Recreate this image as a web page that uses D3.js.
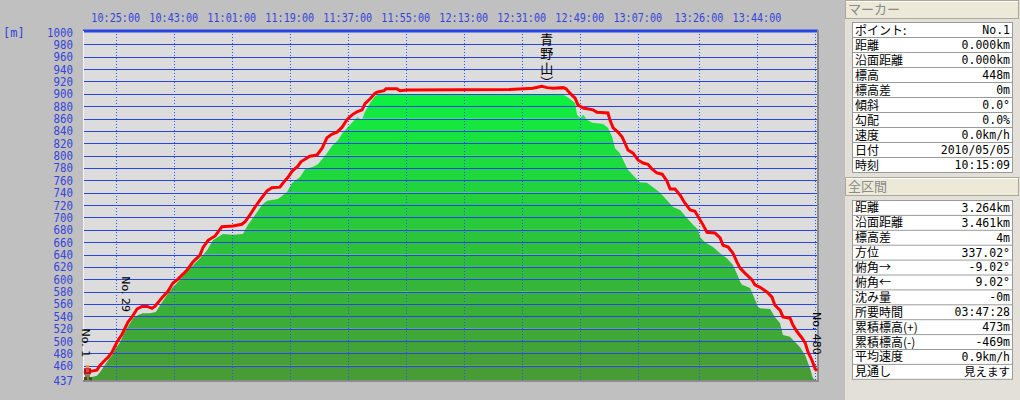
<!DOCTYPE html>
<html>
<head>
<meta charset="utf-8">
<script src="https://cdn.jsdelivr.net/npm/d3@7"></script>
<style>
  html, body { margin: 0; padding: 0; background: #c0c0c0; }
  svg { display: block; }
  .mono { font-family: 'DejaVu Sans Mono', 'Noto Sans CJK JP', monospace; }
  .jp { font-family: 'Noto Sans CJK JP', sans-serif; }
</style>
</head>
<body>
<div id="chart"></div>
<script>
/* global d3 */

// ---- data ----
const DAY = '2010/05/05';
const START_TIME = '10:15:09';
const DURATION = '03:47:28';

// top axis tick labels (one more unlabelled grid line at 14:02)
const tickTimes = ['10:25:00', '10:43:00', '11:01:00', '11:19:00', '11:37:00', '11:55:00',
  '12:13:00', '12:31:00', '12:49:00', '13:07:00', '13:26:00', '13:44:00'];
const extraGridTimes = ['14:02:00'];

// left axis
const elevTicks = [437, 460, 480, 500, 520, 540, 560, 580, 600, 620, 640, 660, 680, 700,
  720, 740, 760, 780, 800, 820, 840, 860, 880, 900, 920, 940, 960, 980, 1000];

// GPS track (red) : minutes after start, elevation [m]
const trackMin = [0, 1.9, 4.0, 5.0, 6.5, 7.5, 8.7, 10.2, 11.8, 13.7, 14.9, 16.5, 18.0, 19.6,
  21.1, 22.0, 24.2, 26.1, 27.6, 28.9, 30.1, 32.0, 33.8, 36.0, 36.9, 38.5, 40.7, 42.8, 46.2,
  49.0, 50.0, 51.5, 53.1, 54.6, 56.8, 58.3, 60.8, 61.8, 63.3, 64.6, 66.4, 67.3, 69.2, 70.1,
  72.3, 73.9, 75.4, 77.0, 78.5, 80.1, 81.6, 83.2, 84.7, 86.3, 87.2, 88.8, 90.3, 91.2, 93.1,
  93.7, 97.1, 98.1, 100.2, 132.2, 139.3, 142.1, 143.7, 145.6, 148.7, 149.6, 150.8, 152.4,
  153.3, 154.9, 158.0, 159.2, 162.6, 163.2, 164.2, 165.7, 167.0, 167.9, 168.8, 170.4, 171.9,
  173.5, 175.0, 176.3, 177.8, 179.4, 180.9, 181.9, 183.4, 185.0, 186.5, 188.1, 189.6, 191.2,
  192.1, 193.3, 195.8, 197.4, 198.3, 199.9, 201.4, 202.6, 203.6, 205.1, 207.3, 208.2, 209.8,
  212.0, 213.5, 214.4, 216.0, 216.9, 219.1, 220.0, 221.3, 222.8, 223.8, 224.7, 225.9, 226.9,
  227.47];
const trackElev = [448, 451, 453, 461, 469, 474, 482, 498, 511, 531, 539, 552, 556, 556,
  553, 556, 570, 581, 594, 599, 605, 615, 628, 639, 651, 663, 670, 685, 686,
  689, 693, 704, 717, 728, 743, 748, 749, 756, 765, 775, 783, 790, 796, 799,
  801, 812, 829, 835, 838, 846, 858, 866, 871, 874, 884, 892, 901, 903, 905,
  908, 908, 905, 906, 907, 909, 912, 910, 909, 910, 908, 901, 893,
  882, 877, 874, 870, 869, 858, 845, 838, 830, 820, 809, 804, 793,
  788, 786, 778, 772, 770, 759, 746, 746, 736, 723, 712, 710, 696,
  688, 676, 675, 667, 655, 652, 642, 628, 618, 610, 599, 591, 587,
  579, 571, 558, 550, 539, 537, 526, 515, 505, 497, 482, 469, 455,
  452];

// terrain profile (green) : minutes after start, elevation [m]
const demMin = [0, 2.5, 4.0, 5.0, 7.1, 8.7, 9.6, 11.2, 12.7, 14.3, 15.2, 16.8, 18.3, 20.5,
  22.3, 23.6, 25.8, 27.6, 29.8, 32.9, 36.0, 38.2, 40.0, 43.1, 46.2, 49.3, 50.9, 53.1, 55.2,
  56.8, 60.2, 63.0, 64.6, 67.0, 68.6, 71.1, 72.6, 75.4, 77.0, 78.8, 80.4, 82.6, 84.7, 86.3,
  87.2, 88.8, 90.3, 91.9, 95.6, 97.1, 148.7, 150.2, 152.4, 153.0, 154.0, 154.9, 156.1,
  157.7, 161.1, 162.6, 163.9, 164.8, 166.3, 167.3, 168.8, 171.0, 172.5, 174.7, 176.6,
  178.8, 180.9, 182.8, 185.0, 187.1, 189.0, 190.6, 191.2, 192.7, 195.2, 197.4, 199.5,
  201.4, 203.0, 203.6, 204.2, 206.7, 207.6, 209.2, 209.8, 212.9, 214.4, 216.0, 216.9,
  219.1, 220.7, 222.2, 223.8, 225.3, 226.2, 226.9];
const demElev = [442, 442, 444, 450, 466, 477, 486, 498, 515, 529, 537, 542, 545, 545,
  547, 558, 575, 587, 599, 618, 634, 647, 663, 673, 672, 673, 688, 704, 720,
  727, 730, 741, 756, 765, 778, 782, 786, 804, 816, 825, 838, 850, 862, 858,
  871, 885, 896, 900, 900, 899, 899, 894, 885, 866, 861, 866, 858,
  853, 851, 845, 830, 812, 804, 793, 777, 765, 757, 756, 749,
  740, 728, 717, 712, 699, 688, 680, 668, 660, 652, 642, 634,
  623, 604, 596, 591, 586, 575, 555, 553, 552, 539, 529, 510,
  507, 498, 490, 477, 456, 440, 437];

// waypoint labels along the track
const pointNames = ['No. 1', 'No. 29', 'No. 480'];
const pointMin = [0.3, 12.7, 227.2];
const pointElev = [448, 521, 452];

const summitName = '青野山）';
const summitMin = 143.6;
const summitElev = 912;

// side panel
const markerTitle = 'マーカー';
const markerLabels = ['ポイント:', '距離', '沿面距離', '標高', '標高差', '傾斜', '勾配', '速度', '日付', '時刻'];
const markerValues = ['No.1', '0.000km', '0.000km', '448m', '0m', '0.0°', '0.0%', '0.0km/h', '2010/05/05', '10:15:09'];
const totalTitle = '全区間';
const totalLabels = ['距離', '沿面距離', '標高差', '方位', '俯角→', '俯角←', '沈み量', '所要時間',
  '累積標高(+)', '累積標高(-)', '平均速度', '見通し'];
const totalValues = ['3.264km', '3.461km', '4m', '337.02°', '-9.02°', '9.02°', '-0m', '03:47:28',
  '473m', '-469m', '0.9km/h', '見えます'];

// ---- chart ----
const W = 1020;
const H = 400;
const plot = { left: 84, right: 817, top: 31, bottom: 380 };
const BLUE = '#2a44e6';
const TEXT_BLUE = '#3444dc';

const parseTime = d3.timeParse('%Y/%m/%d %H:%M:%S');
const start = parseTime(`${DAY} ${START_TIME}`);
const [dh, dm, ds] = DURATION.split(':').map(Number);
const end = new Date(start.getTime() + (dh * 3600 + dm * 60 + ds) * 1000);
const atMin = m => new Date(start.getTime() + m * 60000);
const atClock = s => parseTime(`${DAY} ${s}`);

const x = d3.scaleTime().domain([start, end]).range([plot.left, plot.right]);
const y = d3.scaleLinear().domain([437, 1000]).range([plot.bottom, 32]);

const track = trackMin.map((m, i) => ({ t: atMin(m), e: trackElev[i] }));
const dem = demMin.map((m, i) => ({ t: atMin(m), e: demElev[i] }));

const $svg = d3.select('#chart').append('svg').attr('width', W).attr('height', H);
const $defs = $svg.append('defs');

// plot background
$svg.append('rect')
  .attr('x', plot.left).attr('y', plot.top)
  .attr('width', plot.right - plot.left).attr('height', plot.bottom - plot.top)
  .attr('fill', '#dcdcdc');

// terrain: banded green, one colour per 20 m band
const area = d3.area()
  .x(d => x(d.t))
  .y0(y(437))
  .y1(d => y(d.e));

$defs.append('clipPath').attr('id', 'dem-clip')
  .append('path').attr('d', area(dem));

const bands = d3.pairs(elevTicks);
const bandColor = d3.scaleLinear()
  .domain([437, 880]).range(['#479c36', '#10ee40'])
  .interpolate(d3.interpolateRgb).clamp(true);

$svg.append('g').attr('clip-path', 'url(#dem-clip)')
  .selectAll('rect')
  .data(bands)
  .join('rect')
  .attr('x', plot.left)
  .attr('width', plot.right - plot.left)
  .attr('y', d => y(d[1]))
  .attr('height', d => y(d[0]) - y(d[1]))
  .attr('fill', d => bandColor(d[0]));

// grid
const $grid = $svg.append('g');
$grid.selectAll('line.h')
  .data(elevTicks.filter(v => v > 437 && v < 1000))
  .join('line')
  .attr('class', 'h')
  .attr('x1', plot.left).attr('x2', plot.right)
  .attr('y1', d => Math.round(y(d)) + 0.5).attr('y2', d => Math.round(y(d)) + 0.5)
  .attr('stroke', BLUE).attr('stroke-width', 1);

$grid.selectAll('line.v')
  .data(tickTimes.concat(extraGridTimes).map(atClock))
  .join('line')
  .attr('class', 'v')
  .attr('x1', d => Math.round(x(d)) + 0.5).attr('x2', d => Math.round(x(d)) + 0.5)
  .attr('y1', plot.top).attr('y2', plot.bottom)
  .attr('stroke', '#3050ff').attr('stroke-width', 1)
  .attr('stroke-dasharray', '1,2');

// borders
$svg.append('line')
  .attr('x1', plot.left - 1).attr('x2', plot.right + 1)
  .attr('y1', plot.top).attr('y2', plot.top)
  .attr('stroke', BLUE).attr('stroke-width', 3);
$svg.append('line')
  .attr('x1', plot.left - 0.5).attr('x2', plot.left - 0.5)
  .attr('y1', plot.top).attr('y2', plot.bottom)
  .attr('stroke', '#f4f4ff').attr('stroke-width', 1);
$svg.append('line')
  .attr('x1', plot.right + 1).attr('x2', plot.right + 1)
  .attr('y1', plot.top - 1).attr('y2', plot.bottom + 2)
  .attr('stroke', '#8c8c8c').attr('stroke-width', 2);
$svg.append('line')
  .attr('x1', plot.left - 1).attr('x2', plot.right + 2)
  .attr('y1', plot.bottom + 1).attr('y2', plot.bottom + 1)
  .attr('stroke', '#8c8c8c').attr('stroke-width', 2);

// track line
$svg.append('path')
  .datum(track)
  .attr('d', d3.line().x(d => x(d.t)).y(d => y(d.e)))
  .attr('fill', 'none')
  .attr('stroke', '#ff0000')
  .attr('stroke-width', 3)
  .attr('stroke-linejoin', 'miter');

// axes labels
$svg.append('g').attr('class', 'mono')
  .selectAll('text')
  .data(tickTimes)
  .join('text')
  .attr('x', d => x(atClock(d)))
  .attr('y', 22)
  .attr('text-anchor', 'middle')
  .attr('font-size', 12.5)
  .attr('textLength', d => d.length * 6.1)
  .attr('lengthAdjust', 'spacingAndGlyphs')
  .attr('fill', TEXT_BLUE)
  .text(d => d);

$svg.append('g').attr('class', 'mono')
  .selectAll('text')
  .data(elevTicks)
  .join('text')
  .attr('x', 73)
  .attr('y', d => y(d) + 4.5)
  .attr('text-anchor', 'end')
  .attr('font-size', 12.5)
  .attr('textLength', d => String(d).length * 6.5)
  .attr('lengthAdjust', 'spacingAndGlyphs')
  .attr('fill', TEXT_BLUE)
  .text(d => d);

$svg.append('text').attr('class', 'mono')
  .attr('x', 3).attr('y', 37)
  .attr('font-size', 12)
  .attr('fill', TEXT_BLUE)
  .text('[m]');

// waypoint labels (rotated)
$svg.append('g')
  .selectAll('text')
  .data(pointNames)
  .join('text')
  .attr('transform', (d, i) => `translate(${x(atMin(pointMin[i])) - 3},${y(pointElev[i]) - 16}) rotate(90)`)
  .attr('text-anchor', 'end')
  .attr('font-family', 'DejaVu Sans, sans-serif')
  .attr('font-size', 11)
  .attr('fill', '#000')
  .text(d => d);

// summit name, vertical writing
$svg.append('text').attr('class', 'jp')
  .attr('x', x(atMin(summitMin)))
  .attr('y', y(summitElev) - 54)
  .style('writing-mode', 'vertical-rl')
  .attr('font-size', 13)
  .attr('letter-spacing', 1.5)
  .attr('fill', '#000')
  .text(summitName);

// hiker icon at the start point
const hx = x(start);
const hy = y(448);
const $hiker = $svg.append('g').attr('transform', `translate(${hx},${hy})`);
$hiker.append('rect').attr('x', 2).attr('y', -8).attr('width', 3).attr('height', 3).attr('fill', '#ff9020');
$hiker.append('rect').attr('x', 0).attr('y', -5).attr('width', 7).attr('height', 6).attr('fill', '#b01818');
$hiker.append('rect').attr('x', 2).attr('y', -4).attr('width', 3).attr('height', 3).attr('fill', '#ff4040');
$hiker.append('rect').attr('x', 1).attr('y', 1).attr('width', 5).attr('height', 3).attr('fill', '#8a7a50');
$hiker.append('rect').attr('x', 0).attr('y', 4).attr('width', 3).attr('height', 3).attr('fill', '#504030');
$hiker.append('rect').attr('x', 5).attr('y', 4).attr('width', 3).attr('height', 3).attr('fill', '#504030');

// ---- side panel ----
const panel = { x: 845, tableX: 852.5, tableW: 160 };
$svg.append('rect')
  .attr('x', panel.x).attr('y', 0).attr('width', W - panel.x).attr('height', H)
  .attr('fill', '#e2e0d9');

function header(title, top) {
  const $g = $svg.append('g');
  $g.append('rect')
    .attr('x', panel.x + 0.5).attr('y', top + 0.5)
    .attr('width', W - panel.x - 2).attr('height', 18)
    .attr('fill', '#ece9d8').attr('stroke', '#aca899');
  $g.append('line')
    .attr('x1', panel.x + 1).attr('x2', W - 2)
    .attr('y1', top + 1.5).attr('y2', top + 1.5)
    .attr('stroke', '#fff');
  $g.append('text').attr('class', 'jp')
    .attr('x', panel.x + 3).attr('y', top + 14)
    .attr('font-size', 13)
    .attr('fill', '#8a8a8a')
    .text(title);
}

function table(labels, values, top, rowH) {
  const $g = $svg.append('g');
  $g.append('rect')
    .attr('x', panel.tableX).attr('y', top)
    .attr('width', panel.tableW).attr('height', rowH * labels.length)
    .attr('fill', '#fff').attr('stroke', '#9a9a9a');
  const $row = $g.selectAll('g')
    .data(labels)
    .join('g')
    .attr('transform', (d, i) => `translate(0,${top + i * rowH})`);
  $row.filter((d, i) => i > 0)
    .append('line')
    .attr('x1', panel.tableX).attr('x2', panel.tableX + panel.tableW)
    .attr('y1', 0).attr('y2', 0)
    .attr('stroke', '#9a9a9a');
  $row.append('text').attr('class', 'jp')
    .attr('x', panel.tableX + 2.5).attr('y', rowH - 3)
    .attr('font-size', 12)
    .attr('fill', '#000')
    .text(d => d);
  $row.append('text').attr('class', 'mono')
    .attr('x', panel.tableX + panel.tableW - 2.5).attr('y', rowH - 3.5)
    .attr('text-anchor', 'end')
    .attr('font-size', 11.5)
    .attr('fill', '#000')
    .text((d, i) => values[i]);
}

header(markerTitle, 0);
table(markerLabels, markerValues, 22.5, 15);
header(totalTitle, 177);
table(totalLabels, totalValues, 200.5, 14.9);
</script>
</body>
</html>
